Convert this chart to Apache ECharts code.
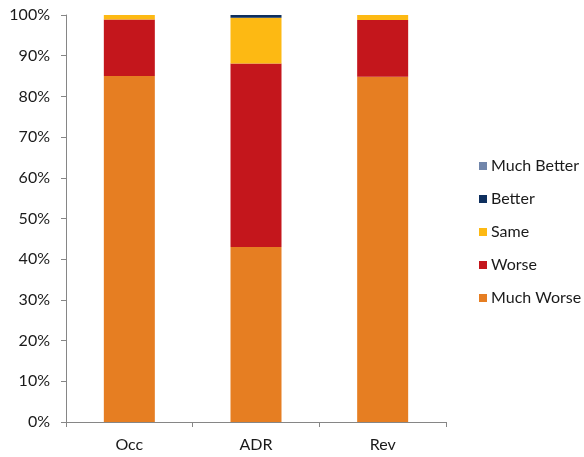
<!DOCTYPE html>
<html><head><meta charset="utf-8">
<script src="https://cdn.jsdelivr.net/npm/echarts@6/dist/echarts.min.js"></script>
<style>html,body{margin:0;padding:0;background:#fff}#c{width:584px;height:457px}</style>
</head><body><div id="c"></div>
<script>
const categories = ['Occ', 'ADR', 'Rev'];
const muchWorse = [85.0, 43.0, 84.8];
const worse = [13.9, 45.1, 14.0];
const same = [1.1, 11.2, 1.2];
const better = [0, 0.7, 0];
const muchBetter = [0, 0, 0];
const seriesNames = ['Much Worse', 'Worse', 'Same', 'Better', 'Much Better'];
const seriesColors = ['#E67E22', '#C4161C', '#FDB913', '#0E2F5E', '#7186AB'];
const seriesData = [muchWorse, worse, same, better, muchBetter];
const FONT = 'Lato';
const chart = echarts.init(document.getElementById('c'));
chart.setOption({
  animation: false,
  textStyle: {fontFamily: FONT},
  grid: {left: 66, right: 138, top: 15, bottom: 35},
  legend: {
    orient: 'vertical', left: 474, top: 153,
    data: seriesNames.slice().reverse(),
    icon: 'rect', itemWidth: 8, itemHeight: 8, itemGap: 17,
    textStyle: {fontFamily: FONT, fontSize: 16, color: '#1a1a1a', lineHeight: 16, padding: [0,0,0,-1]}
  },
  xAxis: {
    type: 'category', data: categories,
    axisLine: {lineStyle: {color: '#868686'}},
    axisTick: {show: true, alignWithLabel: false, length: 5, lineStyle: {color: '#868686'}},
    axisLabel: {color: '#1a1a1a', fontSize: 16, margin: 15, fontFamily: FONT}
  },
  yAxis: {
    type: 'value', min: 0, max: 100, interval: 10,
    axisLine: {show: true, lineStyle: {color: '#868686'}},
    axisTick: {show: true, length: 5, lineStyle: {color: '#868686'}},
    splitLine: {show: false},
    axisLabel: {formatter: '{value}%', color: '#1a1a1a', fontSize: 16, margin: 16, fontFamily: FONT}
  },
  series: seriesNames.map((n, i) => ({
    name: n, type: 'bar', stack: 'total', barWidth: 51,
    itemStyle: {color: seriesColors[i]},
    data: seriesData[i]
  }))
});
</script></body></html>
